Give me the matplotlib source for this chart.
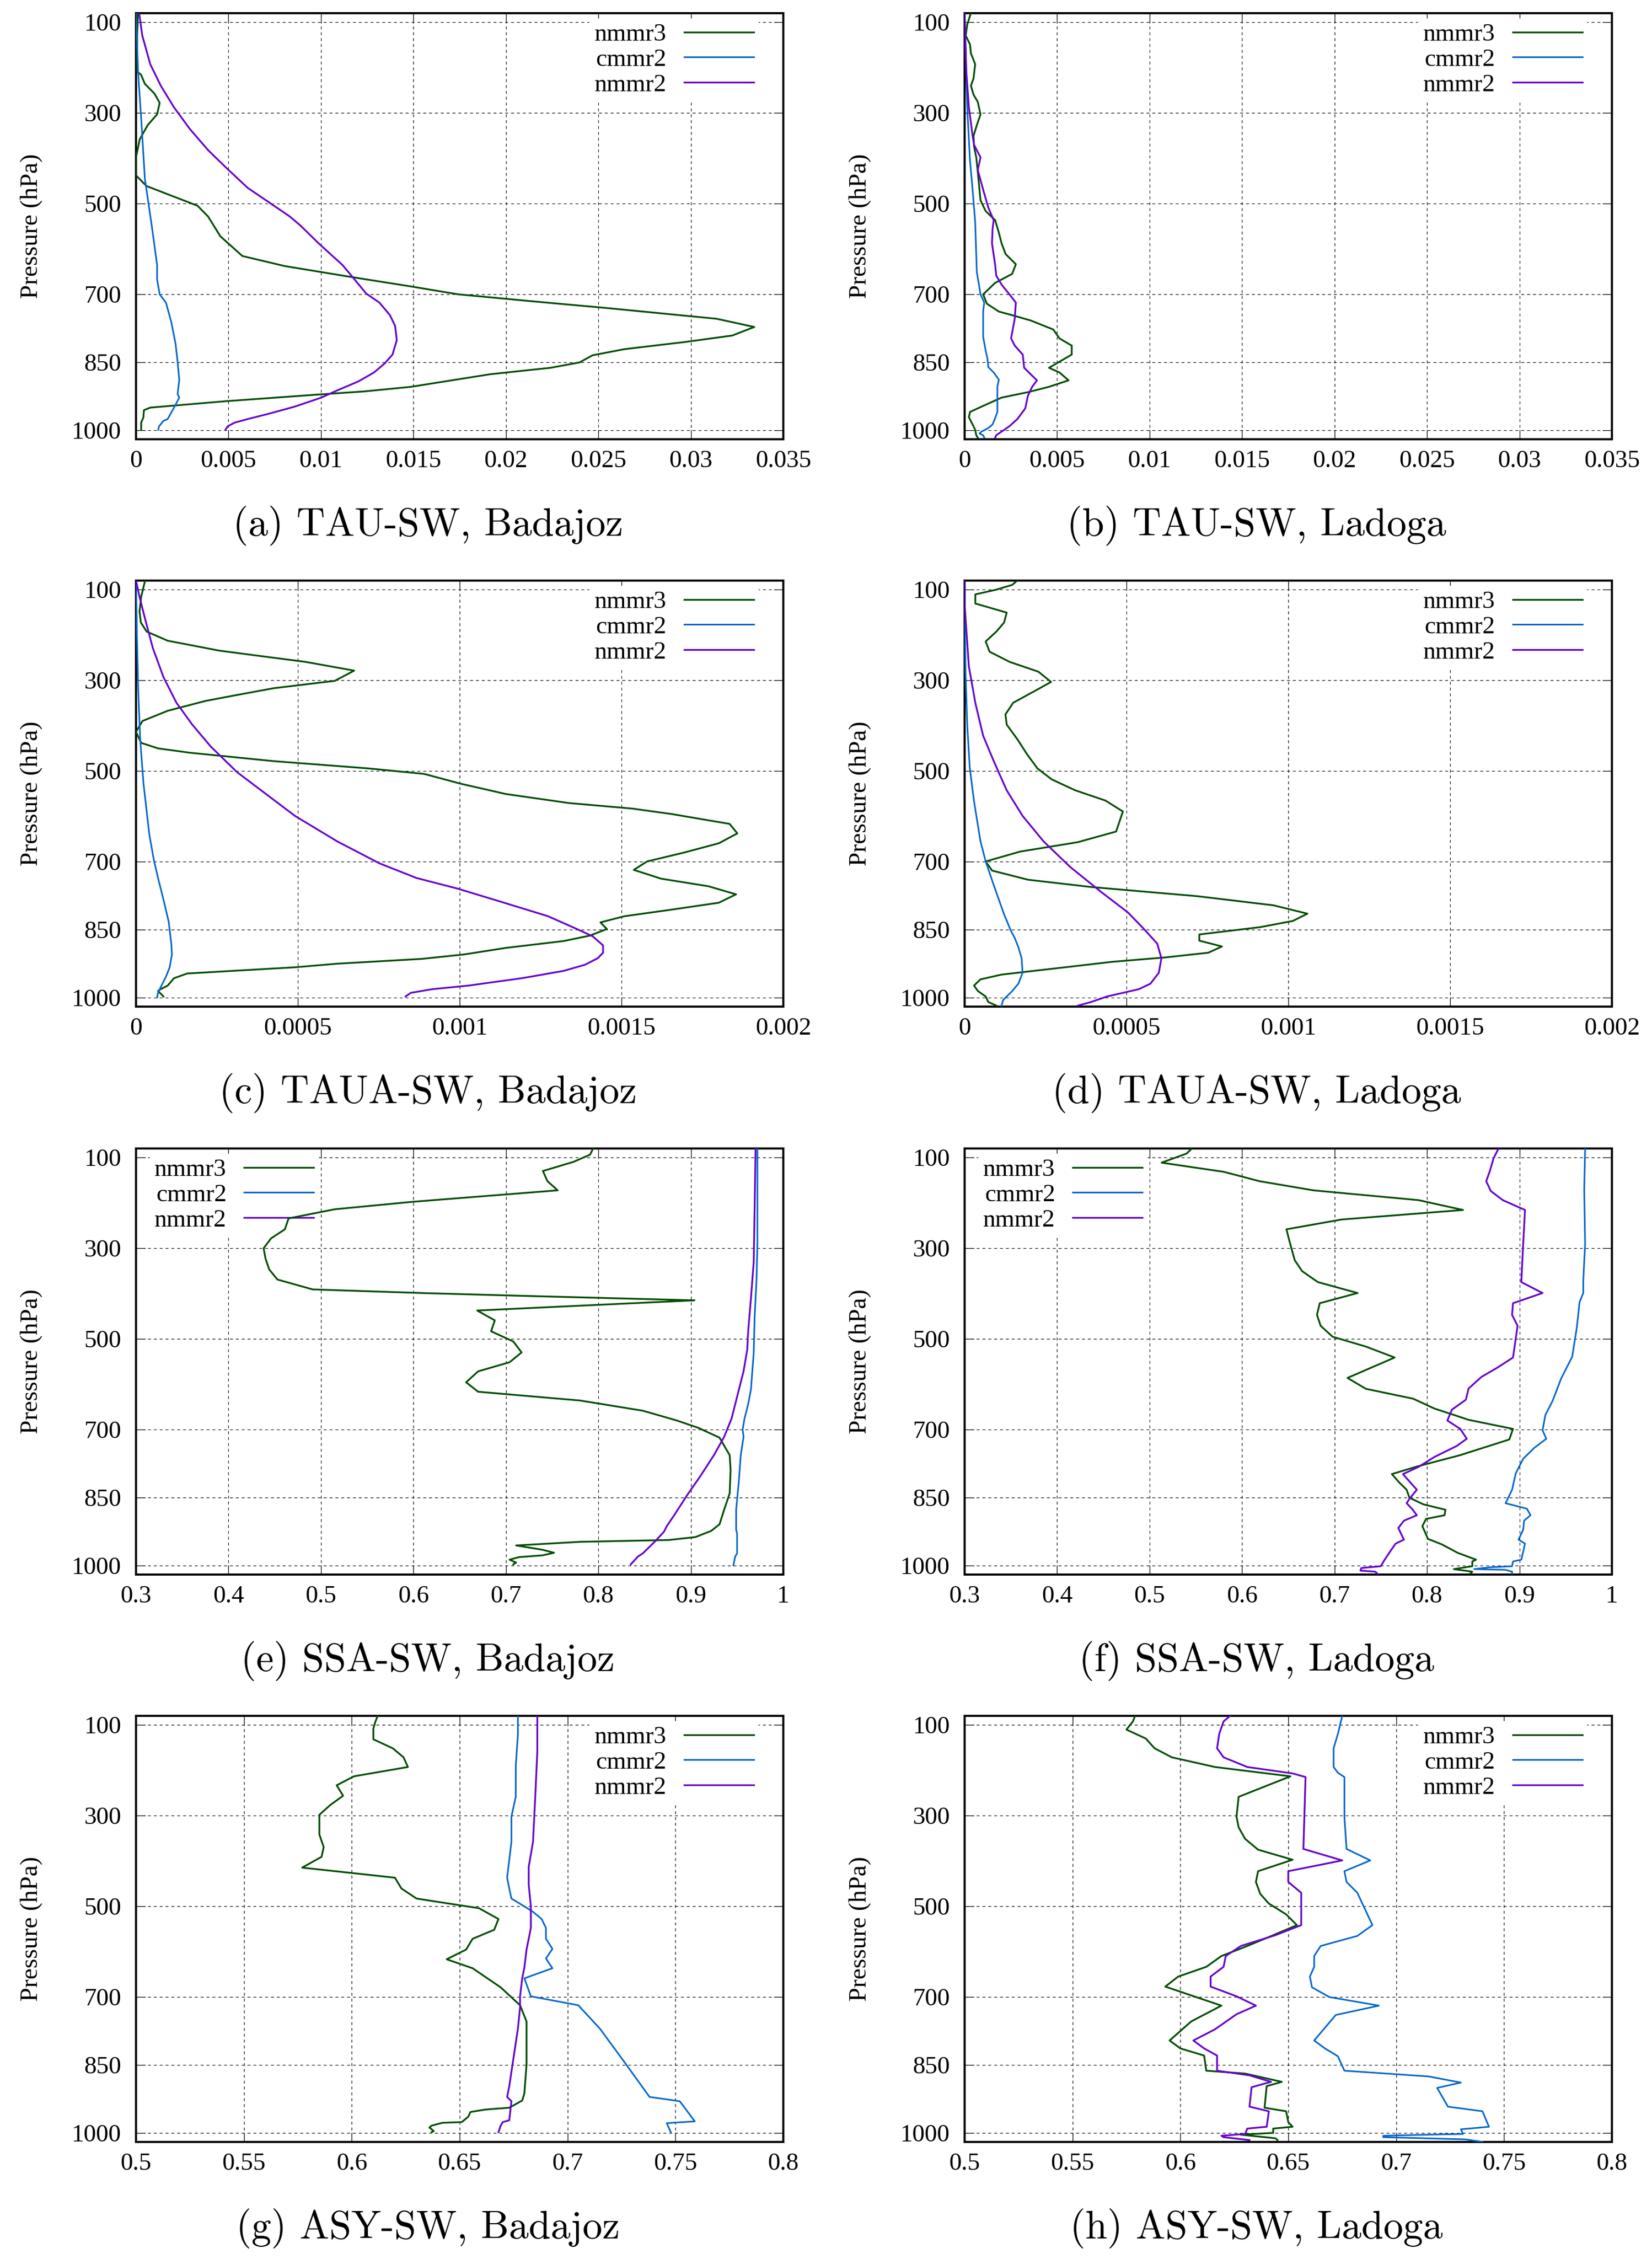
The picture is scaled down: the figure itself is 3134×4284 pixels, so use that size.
"""Vertical profiles of SW aerosol optical properties (TAU, TAUA, SSA, ASY)
for Badajoz and Ladoga, three model runs (nmmr3, cmmr2, nmmr2).
Values were read off the published figure.
"""
import numpy as np
import matplotlib
matplotlib.use("Agg")
import matplotlib.pyplot as plt
from matplotlib.ticker import FuncFormatter

plt.rcParams['font.family'] = ['Liberation Serif', 'DejaVu Serif']

RUNS = ["nmmr3", "cmmr2", "nmmr2"]
COLORS = {"nmmr3": "#004d00", "cmmr2": "#0066cc", "nmmr2": "#6600cc"}
LWS = {"nmmr3": 2.4, "cmmr2": 2.2, "nmmr2": 2.4}

P_TICKS = [100, 300, 500, 700, 850, 1000]
P_LIM = (1020, 80)

# ---- (a) TAU-SW, Badajoz
a_nmmr3_p = [79.4, 129.3, 208.4, 216.3, 236.0, 257.4, 277.9, 303.3, 327.0, 358.6, 398.2, 437.7, 461.4, 504.9,
             528.7, 572.2, 615.7, 637.8, 660.8, 682.9, 700.3, 714.5, 730.3, 754.1, 772.3, 791.2, 805.5, 821.3,
             834.7, 850.5, 862.4, 876.6, 904.3, 914.6, 921.7, 935.9, 950.2, 955.7, 971.5, 983.4, 999.2]
a_nmmr3_v = [0.00011, 0.00006, 0.00006, 0.00028, 0.00048, 0.00100, 0.00128, 0.00114, 0.00063, 0.00020, 0.0,
             0.0, 0.00057, 0.00333, 0.00390, 0.00456, 0.00575, 0.00803, 0.01145, 0.01487, 0.01743, 0.02113,
             0.02540, 0.03138, 0.03343, 0.03224, 0.02967, 0.02640, 0.02469, 0.02398, 0.02241, 0.01914, 0.01487,
             0.01230, 0.00974, 0.00490, 0.00077, 0.00043, 0.00040, 0.00028, 0.00028]
a_cmmr2_p = [79.4, 208.4, 311.2, 445.6, 548.4, 635.4, 667.1, 700.3, 718.5, 762.0, 809.4, 849.0, 888.5, 920.1,
             928.1, 943.9, 975.5, 979.5, 991.3, 999.2]
a_cmmr2_v = [0.0, 0.00011, 0.00028, 0.00048, 0.00085, 0.00114, 0.00114, 0.00128, 0.00162, 0.00191, 0.00214,
             0.00225, 0.00234, 0.00225, 0.00234, 0.00214, 0.00171, 0.00148, 0.00125, 0.00120]
a_nmmr2_p = [79.4, 129.3, 192.5, 240.0, 287.4, 334.9, 382.3, 421.9, 465.4, 497.0, 528.7, 548.4, 588.0, 635.4,
             663.1, 698.7, 718.5, 746.2, 769.9, 801.5, 833.2, 852.9, 872.7, 892.5, 912.2, 928.1, 947.8, 963.7,
             975.5, 983.4, 991.3, 999.2]
a_nmmr2_v = [0.00017, 0.00034, 0.00077, 0.00134, 0.00205, 0.00290, 0.00390, 0.00490, 0.00604, 0.00718, 0.00832,
             0.00889, 0.00988, 0.01116, 0.01173, 0.01245, 0.01316, 0.01373, 0.01401, 0.01410, 0.01387, 0.01344,
             0.01287, 0.01202, 0.01088, 0.01002, 0.00860, 0.00718, 0.00604, 0.00533, 0.00496, 0.00484]

# ---- (b) TAU-SW, Ladoga
b_nmmr3_p = [79.4, 105.5, 129.3, 149.0, 168.8, 192.5, 224.1, 240.0, 259.8, 275.6, 303.3, 327.0, 350.7, 374.4,
             398.2, 429.8, 493.1, 516.8, 536.6, 564.3, 588.0, 611.7, 633.9, 655.2, 675.0, 700.3, 720.9, 738.3,
             746.2, 758.0, 777.8, 797.6, 813.4, 833.2, 862.4, 872.7, 890.1, 904.3, 916.2, 928.1, 943.9, 959.7,
             971.5, 987.3, 999.2, 1011.1, 1016.6]
b_nmmr3_v = [0.00034, 0.00014, 0.00006, 0.00029, 0.00034, 0.00057, 0.00048, 0.00034, 0.00048, 0.00071, 0.00086,
             0.00066, 0.00048, 0.00051, 0.00063, 0.00071, 0.00086, 0.00114, 0.00165, 0.00185, 0.00200, 0.00222,
             0.00277, 0.00257, 0.00165, 0.00100, 0.00120, 0.00185, 0.00257, 0.00357, 0.00479, 0.00513, 0.00579,
             0.00579, 0.00456, 0.00513, 0.00562, 0.00456, 0.00342, 0.00200, 0.00114, 0.00029, 0.00023, 0.00043,
             0.00057, 0.00063, 0.00071]
b_cmmr2_p = [79.4, 168.8, 287.4, 406.1, 469.3, 540.5, 651.2, 700.3, 718.5, 738.3, 793.6, 825.3, 841.1, 860.8,
             872.7, 888.5, 904.3, 943.9, 959.7, 975.5, 987.3, 995.3, 1003.2, 1007.1, 1011.1, 1016.6]
b_cmmr2_v = [0.0, 0.00006, 0.00014, 0.00029, 0.00043, 0.00057, 0.00066, 0.00086, 0.00106, 0.00100, 0.00100,
             0.00114, 0.00123, 0.00128, 0.00157, 0.00185, 0.00177, 0.00177, 0.00177, 0.00163, 0.00151, 0.00128,
             0.00091, 0.00080, 0.00100, 0.00106]
b_nmmr2_p = [79.4, 208.4, 287.4, 350.7, 370.5, 398.2, 425.8, 469.3, 508.9, 536.6, 556.4, 588.0, 635.4, 659.2,
             678.9, 700.3, 718.5, 754.1, 797.6, 813.4, 833.2, 862.4, 876.6, 890.1, 904.3, 924.1, 951.8, 975.5,
             991.3, 999.2, 1007.1, 1011.1, 1016.6]
b_nmmr2_v = [0.0, 0.00009, 0.00023, 0.00043, 0.00051, 0.00086, 0.00071, 0.00100, 0.00128, 0.00157, 0.00151,
             0.00148, 0.00165, 0.00171, 0.00200, 0.00242, 0.00277, 0.00271, 0.00251, 0.00271, 0.00314, 0.00322,
             0.00357, 0.00391, 0.00365, 0.00342, 0.00328, 0.00285, 0.00242, 0.00214, 0.00185, 0.00171, 0.00165]

# ---- (c) TAUA-SW, Badajoz
c_nmmr3_p = [79.9, 116.1, 148.3, 172.5, 192.6, 212.7, 234.4, 248.9, 259.4, 278.7, 301.3, 317.4, 333.5, 345.5,
             357.6, 367.3, 389.8, 413.9, 438.1, 450.2, 459.8, 478.4, 494.5, 506.5, 528.3, 550.8, 570.9, 583.0,
             595.1, 616.8, 637.8, 659.5, 679.6, 699.7, 718.3, 737.6, 754.5, 772.2, 790.7, 806.8, 820.5, 834.2,
             848.7, 863.2, 875.3, 890.5, 905.0, 914.7, 925.2, 933.2, 946.9, 957.4, 973.5, 981.5, 985.6, 997.6]
c_nmmr3_v = [0.000028, 0.000016, 0.000011, 0.000015, 0.000033, 0.000098, 0.000256, 0.000410, 0.000524, 0.000674,
             0.000614, 0.000426, 0.000304, 0.000215, 0.000150, 0.000098, 0.000020, 0.0, 0.000016, 0.000068,
             0.000166, 0.000426, 0.000719, 0.000890, 0.001004, 0.001142, 0.001338, 0.001533, 0.001655, 0.001834,
             0.001858, 0.001801, 0.001696, 0.001579, 0.001538, 0.001622, 0.001769, 0.001854, 0.001801, 0.001647,
             0.001509, 0.001435, 0.001455, 0.001403, 0.001321, 0.001142, 0.001012, 0.000882, 0.000622, 0.000491,
             0.000158, 0.000117, 0.000098, 0.000076, 0.000068, 0.000085]
c_cmmr2_p = [79.9, 204.7, 325.4, 430.1, 526.7, 639.4, 695.7, 736.0, 784.3, 832.6, 880.9, 905.0, 933.2, 953.3,
             977.5, 989.6, 1000.0]
c_cmmr2_v = [0.0, 0.000003, 0.000007, 0.000013, 0.000023, 0.000041, 0.000055, 0.000068, 0.000085, 0.000101,
             0.000109, 0.000111, 0.000104, 0.000093, 0.000076, 0.000068, 0.000065]
c_nmmr2_p = [79.9, 116.1, 164.4, 228.8, 293.2, 349.6, 397.9, 446.2, 502.5, 546.8, 599.1, 655.5, 703.8, 736.0,
             760.1, 788.3, 820.5, 848.7, 864.8, 884.9, 901.0, 913.1, 927.6, 941.2, 957.4, 973.5, 981.5, 989.6, 997.6]
c_nmmr2_v = [0.0, 0.000011, 0.000028, 0.000052, 0.000085, 0.000125, 0.000174, 0.000231, 0.000312, 0.000394,
             0.000491, 0.000622, 0.000752, 0.000866, 0.000996, 0.001126, 0.001273, 0.001362, 0.001411, 0.001443,
             0.001443, 0.001427, 0.001387, 0.001321, 0.001191, 0.001028, 0.000915, 0.000849, 0.000833]

# ---- (d) TAUA-SW, Ladoga
d_nmmr3_p = [79.9, 89.5, 100.0, 110.5, 130.6, 150.7, 172.5, 192.6, 214.3, 236.9, 259.4, 281.1, 303.7, 325.4,
             349.6, 375.3, 397.9, 430.1, 462.3, 494.5, 518.6, 542.8, 565.3, 589.5, 633.7, 657.1, 678.0, 699.7,
             719.9, 740.0, 756.1, 776.2, 796.4, 814.9, 831.0, 844.6, 860.8, 874.4, 887.3, 901.0, 911.5, 921.1,
             933.2, 949.3, 959.8, 973.5, 985.6, 997.6, 1009.7, 1017.8]
d_nmmr3_v = [0.000163, 0.000147, 0.000098, 0.000033, 0.000033, 0.000130, 0.000122, 0.000098, 0.000065, 0.000077,
             0.000139, 0.000228, 0.000267, 0.000212, 0.000150, 0.000126, 0.000130, 0.000163, 0.000192, 0.000225,
             0.000269, 0.000342, 0.000435, 0.000489, 0.000468, 0.000350, 0.000171, 0.000065, 0.000085, 0.000196,
             0.000391, 0.000717, 0.000954, 0.001059, 0.001014, 0.000913, 0.000725, 0.000725, 0.000795, 0.000753,
             0.000619, 0.000456, 0.000310, 0.000114, 0.000049, 0.000029, 0.000041, 0.000065, 0.000073, 0.000098]
d_cmmr2_p = [79.9, 132.2, 285.2, 397.9, 494.5, 567.0, 655.5, 699.7, 752.1, 816.5, 852.7, 868.8, 889.0, 913.1,
             945.3, 969.4, 985.6, 997.6, 1005.6, 1017.8]
d_cmmr2_v = [0.0, 0.0, 0.000003, 0.000008, 0.000016, 0.000029, 0.000049, 0.000065, 0.000090, 0.000122, 0.000143,
             0.000155, 0.000166, 0.000176, 0.000179, 0.000166, 0.000147, 0.000130, 0.000119, 0.000114]
d_nmmr2_p = [79.9, 132.2, 269.1, 349.6, 422.0, 478.4, 542.8, 599.1, 655.5, 711.8, 768.2, 812.5, 848.7, 880.9,
             913.1, 945.3, 969.4, 981.5, 989.6, 997.6, 1009.7, 1017.8]
d_nmmr2_v = [0.0, 0.0, 0.000013, 0.000033, 0.000057, 0.000090, 0.000130, 0.000179, 0.000244, 0.000326, 0.000424,
             0.000505, 0.000554, 0.000595, 0.000608, 0.000600, 0.000574, 0.000538, 0.000489, 0.000440, 0.000391,
             0.000350]

# ---- (e) SSA-SW, Badajoz
e_nmmr3_p = [81.5, 93.6, 109.6, 129.7, 152.2, 172.3, 198.0, 214.1, 234.2, 258.3, 278.4, 300.1, 322.6, 346.7,
             369.2, 390.9, 398.9, 405.4, 415.0, 437.5, 459.2, 483.3, 505.8, 529.9, 551.6, 571.7, 595.8, 616.7,
             636.0, 658.5, 680.2, 696.3, 717.9, 756.5, 788.7, 840.9, 877.1, 909.2, 923.7, 937.3, 943.8, 947.8,
             955.8, 965.5, 971.9, 977.5, 981.6, 987.2, 993.6, 997.6]
e_nmmr3_v = [0.794, 0.791, 0.773, 0.740, 0.745, 0.756, 0.597, 0.515, 0.465, 0.461, 0.446, 0.438, 0.440, 0.444,
             0.453, 0.491, 0.609, 0.723, 0.904, 0.669, 0.688, 0.684, 0.708, 0.717, 0.704, 0.670, 0.657, 0.670,
             0.780, 0.848, 0.885, 0.908, 0.931, 0.942, 0.943, 0.942, 0.936, 0.931, 0.922, 0.905, 0.876, 0.780,
             0.711, 0.740, 0.752, 0.740, 0.714, 0.704, 0.711, 0.708]
e_cmmr2_p = [81.5, 210.1, 290.4, 370.8, 451.2, 531.5, 611.9, 644.0, 676.2, 700.3, 716.3, 756.5, 812.8, 877.1,
             921.2, 929.3, 973.5, 979.9, 1000.0]
e_cmmr2_v = [0.972, 0.972, 0.972, 0.971, 0.969, 0.968, 0.965, 0.962, 0.958, 0.956, 0.957, 0.954, 0.952, 0.949,
             0.949, 0.950, 0.950, 0.948, 0.946]
e_nmmr2_p = [81.5, 210.1, 330.6, 411.0, 483.3, 523.5, 571.7, 628.0, 676.2, 716.3, 756.5, 800.7, 844.9, 889.1,
             913.2, 925.3, 945.4, 973.5, 979.9, 997.6]
e_nmmr2_v = [0.970, 0.969, 0.968, 0.965, 0.962, 0.961, 0.957, 0.950, 0.944, 0.936, 0.925, 0.911, 0.896, 0.882,
             0.874, 0.871, 0.862, 0.848, 0.843, 0.835]

# ---- (f) SSA-SW, Ladoga
f_nmmr3_p = [81.5, 91.2, 111.3, 131.4, 152.2, 172.3, 194.0, 215.7, 236.6, 258.3, 282.4, 326.6, 350.7, 374.8,
             398.9, 421.4, 447.1, 471.3, 495.4, 517.1, 541.2, 586.2, 610.3, 632.0, 653.7, 678.6, 698.7, 722.0,
             756.5, 782.3, 798.4, 816.8, 832.9, 850.6, 865.0, 877.1, 889.1, 897.2, 913.2, 941.3, 953.4, 971.9,
             987.2, 991.2, 1001.6, 1008.0, 1013.7, 1017.7]
f_nmmr3_v = [0.545, 0.540, 0.513, 0.580, 0.619, 0.677, 0.791, 0.839, 0.708, 0.648, 0.651, 0.657, 0.665, 0.682,
             0.725, 0.684, 0.681, 0.685, 0.698, 0.734, 0.765, 0.714, 0.734, 0.785, 0.808, 0.845, 0.893, 0.889,
             0.836, 0.788, 0.762, 0.770, 0.778, 0.781, 0.796, 0.820, 0.819, 0.799, 0.795, 0.801, 0.816, 0.833,
             0.853, 0.849, 0.849, 0.829, 0.849, 0.847]
f_cmmr2_p = [81.5, 169.9, 290.4, 370.8, 398.9, 419.0, 475.3, 539.6, 567.7, 587.8, 636.0, 668.1, 701.9, 720.4,
             740.5, 764.6, 796.7, 832.9, 862.6, 874.7, 889.1, 901.2, 921.2, 942.9, 951.8, 987.2, 991.2, 1001.6,
             1004.0, 1008.0, 1009.6, 1013.7, 1017.7]
f_cmmr2_v = [0.971, 0.970, 0.971, 0.969, 0.969, 0.965, 0.962, 0.957, 0.950, 0.945, 0.936, 0.928, 0.925, 0.929,
             0.916, 0.904, 0.896, 0.892, 0.885, 0.908, 0.912, 0.905, 0.904, 0.899, 0.906, 0.902, 0.893, 0.892,
             0.868, 0.851, 0.885, 0.892, 0.892]
f_nmmr2_p = [81.5, 101.6, 129.7, 152.2, 173.9, 194.0, 215.7, 290.4, 374.8, 398.9, 421.4, 447.1, 471.3, 541.2,
             563.7, 583.8, 609.5, 634.4, 656.1, 680.2, 698.7, 720.4, 736.5, 760.6, 782.3, 798.4, 816.8, 832.9,
             853.0, 862.6, 875.5, 889.1, 901.2, 917.3, 943.0, 951.8, 969.5, 988.0, 1001.6, 1005.6, 1011.3,
             1013.7, 1019.3]
f_nmmr2_v = [0.877, 0.872, 0.868, 0.864, 0.869, 0.882, 0.906, 0.904, 0.902, 0.925, 0.893, 0.892, 0.898, 0.893,
             0.876, 0.859, 0.845, 0.842, 0.827, 0.822, 0.836, 0.843, 0.832, 0.808, 0.791, 0.774, 0.782, 0.789,
             0.781, 0.778, 0.784, 0.789, 0.775, 0.769, 0.775, 0.766, 0.760, 0.754, 0.750, 0.729, 0.728, 0.744,
             0.747]

# ---- (g) ASY-SW, Badajoz
g_nmmr3_p = [80.2, 92.1, 107.9, 131.7, 151.5, 171.4, 192.8, 213.4, 233.2, 256.2, 276.8, 298.2, 341.9, 369.6,
             391.0, 414.8, 437.0, 460.8, 483.0, 504.4, 528.2, 552.0, 571.8, 595.6, 617.0, 636.8, 678.9, 718.5,
             754.2, 793.8, 849.3, 912.8, 928.6, 944.5, 948.5, 954.0, 964.3, 976.2, 977.8, 984.1, 988.1, 996.1, 998.4]
g_nmmr3_v = [0.612, 0.611, 0.610, 0.610, 0.619, 0.624, 0.626, 0.601, 0.593, 0.596, 0.590, 0.585, 0.585, 0.587,
             0.586, 0.577, 0.620, 0.623, 0.630, 0.659, 0.668, 0.666, 0.656, 0.653, 0.644, 0.656, 0.669, 0.678,
             0.681, 0.681, 0.681, 0.680, 0.679, 0.673, 0.662, 0.655, 0.654, 0.651, 0.642, 0.637, 0.636, 0.638, 0.637]
g_cmmr2_p = [80.2, 119.8, 191.2, 258.6, 302.2, 357.7, 397.4, 437.0, 460.8, 483.0, 500.4, 512.3, 528.2, 548.0,
             571.8, 594.0, 615.4, 636.8, 659.0, 698.7, 718.5, 770.1, 841.4, 920.7, 930.2, 974.6, 978.6, 1000.0]
g_cmmr2_v = [0.677, 0.677, 0.676, 0.676, 0.674, 0.674, 0.673, 0.672, 0.673, 0.674, 0.680, 0.684, 0.688, 0.690,
             0.690, 0.693, 0.690, 0.693, 0.680, 0.683, 0.705, 0.715, 0.726, 0.738, 0.752, 0.759, 0.746, 0.748]
g_nmmr2_p = [80.2, 159.5, 262.6, 357.7, 413.2, 452.9, 500.4, 548.0, 595.6, 635.3, 659.0, 698.7, 722.5, 770.1,
             833.5, 897.0, 920.7, 930.2, 972.2, 976.2, 984.1, 998.4]
g_nmmr2_v = [0.686, 0.686, 0.685, 0.684, 0.682, 0.682, 0.683, 0.683, 0.681, 0.680, 0.679, 0.678, 0.678, 0.677,
             0.675, 0.673, 0.672, 0.674, 0.673, 0.670, 0.669, 0.668]

# ---- (h) ASY-SW, Ladoga
h_nmmr3_p = [80.2, 92.1, 110.3, 130.1, 151.5, 171.4, 192.8, 213.4, 258.6, 302.2, 326.0, 351.4, 375.2, 397.4,
             422.7, 446.5, 472.7, 494.1, 517.9, 541.7, 563.9, 587.7, 609.9, 633.7, 655.1, 677.3, 719.3, 754.2,
             796.2, 813.7, 829.5, 862.8, 869.2, 887.4, 896.9, 944.5, 952.4, 976.2, 986.5, 990.5, 1000.0, 1004.0,
             1011.9, 1015.9]
h_nmmr3_v = [0.579, 0.578, 0.575, 0.584, 0.588, 0.596, 0.616, 0.651, 0.627, 0.626, 0.627, 0.630, 0.636, 0.652,
             0.636, 0.635, 0.637, 0.641, 0.649, 0.654, 0.643, 0.631, 0.619, 0.612, 0.599, 0.593, 0.619, 0.605,
             0.595, 0.600, 0.611, 0.612, 0.630, 0.647, 0.640, 0.639, 0.649, 0.650, 0.652, 0.643, 0.643, 0.628,
             0.644, 0.645]
h_cmmr2_p = [80.2, 119.8, 151.5, 192.8, 205.5, 215.0, 302.2, 373.6, 398.9, 422.7, 446.5, 470.3, 541.7, 565.5,
             587.7, 609.9, 633.7, 655.1, 678.9, 700.3, 719.3, 739.9, 796.2, 813.7, 831.1, 862.8, 875.5, 889.0,
             900.9, 942.1, 952.4, 986.5, 992.1, 1002.4, 1005.6, 1006.4, 1009.5, 1014.3, 1019.8]
h_cmmr2_v = [0.675, 0.673, 0.671, 0.671, 0.673, 0.676, 0.676, 0.677, 0.688, 0.676, 0.677, 0.682, 0.689, 0.682,
             0.665, 0.662, 0.662, 0.660, 0.661, 0.669, 0.692, 0.672, 0.662, 0.667, 0.673, 0.676, 0.715, 0.730,
             0.719, 0.724, 0.740, 0.743, 0.730, 0.731, 0.700, 0.694, 0.694, 0.732, 0.740]
h_nmmr2_p = [80.2, 92.1, 119.8, 151.5, 171.4, 192.8, 207.0, 215.0, 373.6, 398.9, 422.7, 446.5, 470.3, 541.7,
             563.9, 587.7, 609.9, 633.7, 655.1, 677.3, 698.7, 719.3, 738.3, 771.6, 796.2, 813.7, 829.5, 862.8,
             873.1, 887.4, 899.3, 942.1, 952.4, 986.5, 990.5, 1002.4, 1006.4, 1009.5, 1015.9]
h_nmmr2_v = [0.623, 0.620, 0.618, 0.617, 0.620, 0.631, 0.652, 0.658, 0.657, 0.675, 0.650, 0.650, 0.656, 0.656,
             0.644, 0.628, 0.621, 0.620, 0.614, 0.614, 0.626, 0.635, 0.626, 0.616, 0.606, 0.611, 0.617, 0.617,
             0.632, 0.642, 0.633, 0.632, 0.641, 0.640, 0.631, 0.630, 0.619, 0.620, 0.632]

CAPTIONS = ["(a) TAU-SW, Badajoz", "(b) TAU-SW, Ladoga",
            "(c) TAUA-SW, Badajoz", "(d) TAUA-SW, Ladoga",
            "(e) SSA-SW, Badajoz", "(f) SSA-SW, Ladoga",
            "(g) ASY-SW, Badajoz", "(h) ASY-SW, Ladoga"]
X_TICKS_TAU = [0, 0.005, 0.01, 0.015, 0.02, 0.025, 0.03, 0.035]
X_TICKS_TAUA = [0, 0.0005, 0.001, 0.0015, 0.002]
X_TICKS_SSA = [0.3, 0.4, 0.5, 0.6, 0.7, 0.8, 0.9, 1.0]
X_TICKS_ASY = [0.5, 0.55, 0.6, 0.65, 0.7, 0.75, 0.8]

panels = [
    (X_TICKS_TAU, "right", [(a_nmmr3_p, a_nmmr3_v), (a_cmmr2_p, a_cmmr2_v), (a_nmmr2_p, a_nmmr2_v)]),
    (X_TICKS_TAU, "right", [(b_nmmr3_p, b_nmmr3_v), (b_cmmr2_p, b_cmmr2_v), (b_nmmr2_p, b_nmmr2_v)]),
    (X_TICKS_TAUA, "right", [(c_nmmr3_p, c_nmmr3_v), (c_cmmr2_p, c_cmmr2_v), (c_nmmr2_p, c_nmmr2_v)]),
    (X_TICKS_TAUA, "right", [(d_nmmr3_p, d_nmmr3_v), (d_cmmr2_p, d_cmmr2_v), (d_nmmr2_p, d_nmmr2_v)]),
    (X_TICKS_SSA, "left", [(e_nmmr3_p, e_nmmr3_v), (e_cmmr2_p, e_cmmr2_v), (e_nmmr2_p, e_nmmr2_v)]),
    (X_TICKS_SSA, "left", [(f_nmmr3_p, f_nmmr3_v), (f_cmmr2_p, f_cmmr2_v), (f_nmmr2_p, f_nmmr2_v)]),
    (X_TICKS_ASY, "right", [(g_nmmr3_p, g_nmmr3_v), (g_cmmr2_p, g_cmmr2_v), (g_nmmr2_p, g_nmmr2_v)]),
    (X_TICKS_ASY, "right", [(h_nmmr3_p, h_nmmr3_v), (h_cmmr2_p, h_cmmr2_v), (h_nmmr2_p, h_nmmr2_v)]),
]

# layout in output pixels (figure is 3134 x 4284 at dpi 100)
W, H = 3134, 4284
COL_LEFT = [258, 1830]
AX_W = 1228
ROW_TOP = [25, 1101, 2178, 3254]
AX_H = 808
CAP_X = [812, 2384]
CAP_DY = 972
YLAB_X = [60, 1632]

fig = plt.figure(figsize=(W / 100, H / 100), dpi=100)
gfmt = FuncFormatter(lambda v, pos: "%g" % v)

for i, (xticks, legside, series) in enumerate(panels):
    r, c = divmod(i, 2)
    ax = fig.add_axes([COL_LEFT[c] / W, 1 - (ROW_TOP[r] + AX_H) / H, AX_W / W, AX_H / H])
    for run, (p, v) in zip(RUNS, series):
        ax.plot(v, p, color=COLORS[run], lw=LWS[run], label=run, zorder=3)
    ax.set_xlim(xticks[0], xticks[-1])
    ax.set_ylim(*P_LIM)
    ax.set_xticks(xticks)
    ax.set_yticks(P_TICKS)
    ax.xaxis.set_major_formatter(gfmt)
    ax.set_axisbelow(True)
    ax.grid(True, color="black", lw=0.8, linestyle=(0, (5, 5)))
    ax.tick_params(direction="in", length=13, width=0.9, top=True, right=True, labelsize=34)
    ax.tick_params(axis="x", pad=15)
    ax.tick_params(axis="y", pad=20)
    for s in ax.spines.values():
        s.set_linewidth(2.9)

    if legside == "right":
        loc, anchor = "upper right", (0.962, 0.988)
    else:
        loc, anchor = "upper left", (0.021, 0.988)
    leg = ax.legend(loc=loc, bbox_to_anchor=anchor, markerfirst=False, frameon=True, fancybox=False,
                    edgecolor="none", facecolor="white", framealpha=1, fontsize=34, handlelength=2.8,
                    handletextpad=0.7, labelspacing=0.1, borderpad=0.2, borderaxespad=0)
    leg.set_zorder(1)

    yc = 1 - (ROW_TOP[r] + AX_H / 2) / H
    fig.text(YLAB_X[c] / W, yc, "Pressure (hPa)", rotation=90, ha="center", va="center", fontsize=34)
    fig.text(CAP_X[c] / W, 1 - (ROW_TOP[r] + CAP_DY) / H, CAPTIONS[i], ha="center", va="center",
             fontsize=54, family=["cmr10", "DejaVu Serif"])

fig.savefig("out.png", dpi=100)
print("wrote out.png")
